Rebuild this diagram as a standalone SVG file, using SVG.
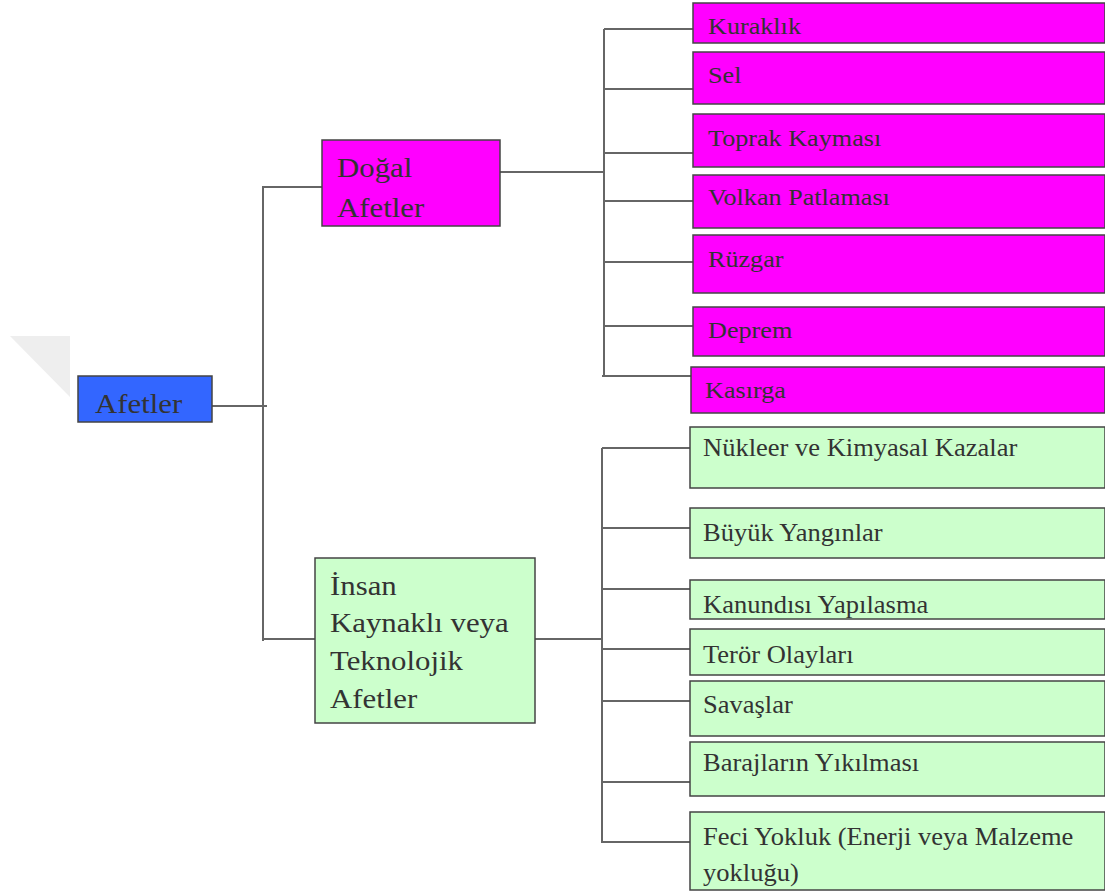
<svg xmlns="http://www.w3.org/2000/svg" width="1105" height="892" viewBox="0 0 1105 892">
<style>
.box{stroke:#444;stroke-width:1.5}
.m{fill:#ff00ff}
.g{fill:#ccffcc}
.b{fill:#3366ff}
text{font-family:"Liberation Serif","Times New Roman",serif;fill:#333}
.big{font-size:28px}
.mt{font-size:24px}
.gt{font-size:26px}
#connectors line{stroke:#666;stroke-width:2}
</style>
<defs>
<clipPath id="clipK"><rect x="690" y="580" width="415" height="39"/></clipPath>
</defs>
<rect width="1105" height="892" fill="#fff"/>
<polygon points="10,336 70,336 70,397" fill="#eeeeee"/>
<g id="connectors">
<line x1="212" y1="406" x2="267" y2="406"/>
<line x1="263" y1="186" x2="263" y2="641"/>
<line x1="263" y1="187" x2="322" y2="187"/>
<line x1="263" y1="639" x2="315" y2="639"/>
<line x1="500" y1="172" x2="604" y2="172"/>
<line x1="604" y1="29" x2="604" y2="377"/>
<line x1="604" y1="29" x2="693" y2="29"/>
<line x1="604" y1="89" x2="693" y2="89"/>
<line x1="604" y1="153" x2="693" y2="153"/>
<line x1="604" y1="201" x2="693" y2="201"/>
<line x1="604" y1="262" x2="693" y2="262"/>
<line x1="604" y1="326" x2="693" y2="326"/>
<line x1="602" y1="376" x2="691" y2="376"/>
<line x1="535" y1="639" x2="602" y2="639"/>
<line x1="602" y1="448" x2="602" y2="843"/>
<line x1="602" y1="448" x2="690" y2="448"/>
<line x1="602" y1="528" x2="690" y2="528"/>
<line x1="602" y1="589" x2="690" y2="589"/>
<line x1="602" y1="649" x2="690" y2="649"/>
<line x1="602" y1="701" x2="690" y2="701"/>
<line x1="602" y1="782" x2="690" y2="782"/>
<line x1="602" y1="842" x2="690" y2="842"/>
</g>
<g id="afetler"><rect class="box b" x="78" y="376" width="134" height="46"/><text class="big" transform="translate(95,413) scale(1.1,1)">Afetler</text></g>
<g id="dogal"><rect class="box m" x="322" y="140" width="178" height="86"/><text class="big" transform="translate(337,177) scale(1.1,1)">Doğal</text><text class="big" transform="translate(337,217) scale(1.1,1)">Afetler</text></g>
<g id="insan"><rect class="box g" x="315" y="558" width="220" height="165"/>
<text class="big" transform="translate(330,595) scale(1.1,1)">İnsan</text><text class="big" transform="translate(330,632) scale(1.1,1)">Kaynaklı veya</text><text class="big" transform="translate(330,670) scale(1.1,1)">Teknolojik</text><text class="big" transform="translate(330,708) scale(1.1,1)">Afetler</text></g>
<g id="kuraklik"><rect class="box m" x="693" y="3" width="412" height="40"/><text class="mt" transform="translate(708,34) scale(1.09,1)">Kuraklık</text></g>
<g id="sel"><rect class="box m" x="693" y="52" width="412" height="52"/><text class="mt" transform="translate(708,83) scale(1.09,1)">Sel</text></g>
<g id="toprak"><rect class="box m" x="693" y="114" width="412" height="53"/><text class="mt" transform="translate(708,146) scale(1.09,1)">Toprak Kayması</text></g>
<g id="volkan"><rect class="box m" x="693" y="175" width="412" height="53"/><text class="mt" transform="translate(708,205) scale(1.09,1)">Volkan Patlaması</text></g>
<g id="ruzgar"><rect class="box m" x="693" y="235" width="412" height="58"/><text class="mt" transform="translate(708,267) scale(1.09,1)">Rüzgar</text></g>
<g id="deprem"><rect class="box m" x="693" y="307" width="412" height="49"/><text class="mt" transform="translate(708,338) scale(1.09,1)">Deprem</text></g>
<g id="kasirga"><rect class="box m" x="691" y="367" width="414" height="46"/><text class="mt" transform="translate(705,398) scale(1.09,1)">Kasırga</text></g>
<g id="nukleer"><rect class="box g" x="690" y="427" width="415" height="61"/><text class="gt" transform="translate(703,456) scale(1.02,1)">Nükleer ve Kimyasal Kazalar</text></g>
<g id="buyuk"><rect class="box g" x="690" y="508" width="415" height="50"/><text class="gt" transform="translate(703,541) scale(1.02,1)">Büyük Yangınlar</text></g>
<g id="kanundisi"><rect class="box g" x="690" y="580" width="415" height="39"/><g clip-path="url(#clipK)"><text class="gt" transform="translate(703,613) scale(1.02,1)">Kanundısı Yapılasma</text></g></g>
<g id="teror"><rect class="box g" x="690" y="629" width="415" height="46"/><text class="gt" transform="translate(703,663) scale(1.02,1)">Terör Olayları</text></g>
<g id="savaslar"><rect class="box g" x="690" y="681" width="415" height="55"/><text class="gt" transform="translate(703,713) scale(1.02,1)">Savaşlar</text></g>
<g id="barajlar"><rect class="box g" x="690" y="742" width="415" height="54"/><text class="gt" transform="translate(703,771) scale(1.02,1)">Barajların Yıkılması</text></g>
<g id="feci"><rect class="box g" x="690" y="812" width="415" height="78"/><text class="gt" transform="translate(703,845) scale(1.02,1)">Feci Yokluk (Enerji veya Malzeme</text><text class="gt" transform="translate(703,881) scale(1.02,1)">yokluğu)</text></g>
</svg>
